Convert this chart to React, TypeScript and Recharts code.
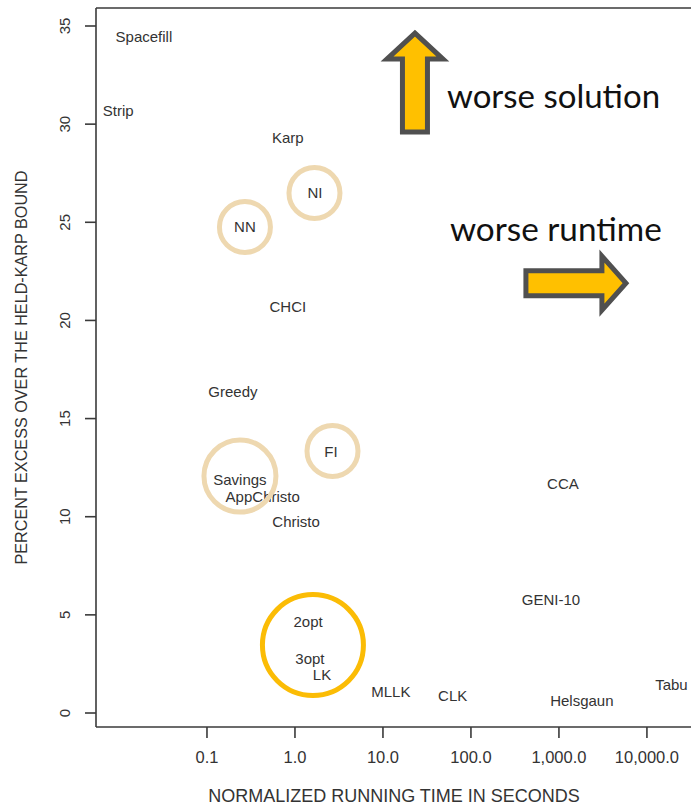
import React from 'react';
import { ScatterChart, Scatter, XAxis, YAxis, ReferenceDot, ReferenceLine, Label } from 'recharts';

// ---- data ----
const algorithms = ['Spacefill', 'Strip', 'Karp', 'NI', 'NN', 'CHCI', 'Greedy', 'FI', 'Savings', 'AppChristo', 'Christo', '2opt', '3opt', 'LK', 'MLLK', 'CLK', 'Helsgaun', 'Tabu', 'CCA', 'GENI-10'];
const runningTimes = [0.0192, 0.0098, 0.83, 1.69, 0.27, 0.83, 0.197, 2.57, 0.237, 0.43, 1.03, 1.41, 1.48, 2.03, 12.3, 62, 1820, 19000, 1110, 813];
const percentExcess = [34.49, 30.7, 29.3, 26.5, 24.76, 20.73, 16.4, 13.3, 11.92, 11.05, 9.78, 4.64, 2.8, 1.94, 1.12, 0.87, 0.66, 1.43, 11.67, 5.8];

const xTicks = [0.1, 1, 10, 100, 1000, 10000];
const xTickLabels = ['0.1', '1.0', '10.0', '100.0', '1,000.0', '10,000.0'];
const yTicks = [0, 5, 10, 15, 20, 25, 30, 35];
const xDomain = [0.00548, 40100];
const yDomain = [-0.713, 35.917];

// highlighted groups (circle centres in data units)
const softCircleX = [0.27, 1.666, 2.67, 0.237];
const softCircleY = [24.76, 26.49, 13.35, 12.07];
const strongCircleX = [1.6];
const strongCircleY = [3.46];

// annotation arrows (tip positions in data units)
const upArrowAt = [23.1, 34.64];
const rightArrowAt = [5770, 21.9];
const upArrowText = 'worse solution';
const rightArrowText = 'worse runtime';

const points = algorithms.map((name, i) => ({ name, time: runningTimes[i], excess: percentExcess[i] }));

const FONT = '"Liberation Sans", Arial, Helvetica, sans-serif';
const AXIS = '#3a3a3a';
const TXT = '#333';

const LabelShape = (props: any) => {
  const { cx, cy, payload } = props;
  return (
    <text x={cx} y={cy} textAnchor="middle" dominantBaseline="central" fontSize={15} fill={TXT} fontFamily={FONT}>
      {payload.name}
    </text>
  );
};

const XTick = (props: any) => {
  const { x, y, payload } = props;
  const idx = xTicks.indexOf(payload.value);
  return (
    <text x={x} y={y + 23} textAnchor="middle" fontSize={16.5} fill={TXT} fontFamily={FONT}>
      {idx >= 0 ? xTickLabels[idx] : String(payload.value)}
    </text>
  );
};

const YTick = (props: any) => {
  const { x, y, payload } = props;
  const tx = x - 18.5;
  return (
    <text x={tx} y={y} textAnchor="middle" dominantBaseline="central" fontSize={15} fill={TXT} fontFamily={FONT}
      transform={`rotate(-90, ${tx}, ${y})`}>
      {payload.value}
    </text>
  );
};

const UpArrow = (props: any) => {
  const { cx, cy } = props;
  const pts = [[0, 0], [28, 26], [12.5, 26], [12.5, 99], [-12.5, 99], [-12.5, 26], [-28, 26]]
    .map(([dx, dy]) => `${cx + dx},${cy + dy}`).join(' ');
  return (
    <g>
      <polygon points={pts} fill="#ffc000" stroke="#505050" strokeWidth={5} strokeLinejoin="miter" />
      <text x={cx + 32} y={cy + 75} fontSize={33} fill="#111" fontFamily="Lato, sans-serif">{upArrowText}</text>
    </g>
  );
};

const RightArrow = (props: any) => {
  const { cx, cy } = props;
  const pts = [[0, 0], [-24, -27], [-24, -12.5], [-100, -12.5], [-100, 12.5], [-24, 12.5], [-24, 27]]
    .map(([dx, dy]) => `${cx + dx},${cy + dy}`).join(' ');
  return (
    <g>
      <polygon points={pts} fill="#ffc000" stroke="#505050" strokeWidth={5} strokeLinejoin="miter" />
      <text x={cx - 176} y={cy - 42} fontSize={33.3} fill="#111" fontFamily="Lato, sans-serif">{rightArrowText}</text>
    </g>
  );
};

export default function App() {
  return (
    <div style={{ position: 'absolute', left: 0, top: 0, width: 691, height: 805, overflow: 'hidden', background: '#fff' }}>
      <ScatterChart width={700} height={805} margin={{ top: 8, right: 0, bottom: 0, left: 0 }}>
        <XAxis
          dataKey="time"
          type="number"
          scale="log"
          domain={xDomain}
          ticks={xTicks}
          allowDataOverflow
          height={78}
          tickSize={11}
          tick={<XTick />}
          axisLine={{ stroke: AXIS, strokeWidth: 1.6 }}
          tickLine={{ stroke: AXIS, strokeWidth: 1.6 }}
        >
          <Label
            content={(p: any) => {
              const vb = p.viewBox;
              return (
                <text x={vb.x + vb.width / 2 - 4} y={802} textAnchor="middle" fontSize={18} fill={TXT} fontFamily={FONT}>
                  NORMALIZED RUNNING TIME IN SECONDS
                </text>
              );
            }}
          />
        </XAxis>
        <YAxis
          dataKey="excess"
          type="number"
          domain={yDomain}
          ticks={yTicks}
          allowDataOverflow
          width={96}
          tickSize={11}
          tick={<YTick />}
          axisLine={{ stroke: AXIS, strokeWidth: 1.6 }}
          tickLine={{ stroke: AXIS, strokeWidth: 1.6 }}
        >
          <Label
            content={(p: any) => {
              const vb = p.viewBox;
              const cy = vb.y + vb.height / 2;
              return (
                <text x={20.5} y={cy} textAnchor="middle" dominantBaseline="central" fontSize={16.2} fill={TXT} fontFamily={FONT}
                  transform={`rotate(-90, 20.5, ${cy})`}>
                  PERCENT EXCESS OVER THE HELD-KARP BOUND
                </text>
              );
            }}
          />
        </YAxis>
        <ReferenceLine y={yDomain[1]} stroke={AXIS} strokeWidth={1.6} />
        <Scatter data={points} shape={<LabelShape />} isAnimationActive={false} />
        {softCircleX.map((x, i) => (
          <ReferenceDot key={'s' + i} x={x} y={softCircleY[i]} r={i === 3 ? 36 : 25.5} fill="none" stroke="#eed8b0" strokeWidth={5} />
        ))}
        {strongCircleX.map((x, i) => (
          <ReferenceDot key={'k' + i} x={x} y={strongCircleY[i]} r={50.5} fill="none" stroke="#fbbc05" strokeWidth={5} />
        ))}
        <ReferenceDot x={upArrowAt[0]} y={upArrowAt[1]} r={1} shape={<UpArrow />} />
        <ReferenceDot x={rightArrowAt[0]} y={rightArrowAt[1]} r={1} shape={<RightArrow />} />
      </ScatterChart>
    </div>
  );
}
